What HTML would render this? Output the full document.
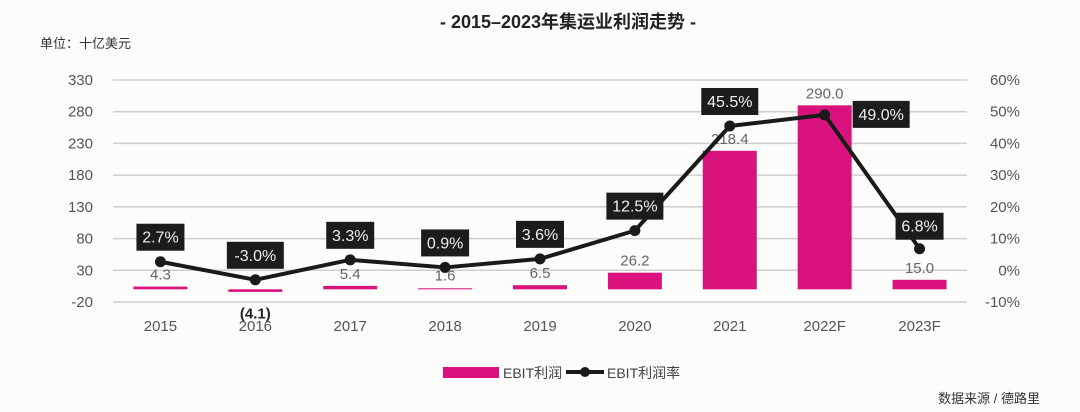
<!DOCTYPE html>
<html><head><meta charset="utf-8"><style>
body{margin:0;background:#fcfcfa;}
svg{display:block;font-family:"Liberation Sans","Noto Sans CJK SC",sans-serif;}
</style></head><body>
<svg width="1080" height="412" viewBox="0 0 1080 412">
<rect width="1080" height="412" fill="#fcfcfa"/>
<text x="568" y="28" text-anchor="middle" font-size="18" font-weight="bold" fill="#222">- 2015–2023年集运业利润走势 -</text>
<text x="40" y="48" font-size="13" fill="#333">单位：十亿美元</text>
<text x="1040" y="403" text-anchor="end" font-size="13" fill="#333">数据来源 / 德路里</text>
<g id="grid"></g><g id="bars"></g><g id="line"></g><g id="axes"></g>
<g>
<rect x="443" y="367" width="56" height="11" fill="#d9127d"/>
<text x="503" y="378" font-size="14" fill="#444">EBIT利润</text>
<line x1="566" y1="372" x2="604" y2="372" stroke="#1a1a1a" stroke-width="4"/>
<circle cx="585" cy="372" r="5" fill="#1a1a1a"/>
<text x="607" y="378" font-size="14" fill="#444">EBIT利润率</text>
</g>
</svg>
<script>
const categories=["2015","2016","2017","2018","2019","2020","2021","2022F","2023F"];
const ebit=[4.3,-4.1,5.4,1.6,6.5,26.2,218.4,290.0,15.0];
const margin=[2.7,-3.0,3.3,0.9,3.6,12.5,45.5,49.0,6.8];
const leftTicks=[330,280,230,180,130,80,30,-20];
const rightTicks=[60,50,40,30,20,10,0,-10];
const NS="http://www.w3.org/2000/svg";
const X0=113,X1=967,YT=80,YB=302;
const yL=v=>YB-(v+20)/350*(YB-YT);
const yR=v=>YB-(v+10)/70*(YB-YT);
const step=(X1-X0)/categories.length;
const xC=i=>X0+step*(i+0.5);
function mk(tag,attrs,parent,text){const e=document.createElementNS(NS,tag);for(const k in attrs)e.setAttribute(k,attrs[k]);if(text!==undefined)e.textContent=text;parent.appendChild(e);return e;}
const grid=document.getElementById('grid'),bars=document.getElementById('bars'),line=document.getElementById('line'),axes=document.getElementById('axes');
leftTicks.forEach(t=>{
 const l=mk('line',{x1:X0,x2:X1,y1:yL(t),y2:yL(t),stroke:'#cfcfcf','stroke-width':1.5},grid);
 
 
 const tx=mk('text',{x:93,y:yL(t)+5,'text-anchor':'end','font-size':15,fill:'#555'},axes,String(t));
 
 
});
rightTicks.forEach(t=>{
 const tx=mk('text',{x:1020,y:yR(t)+5,'text-anchor':'end','font-size':15,fill:'#555'},axes,t+'%');
 
 
});
categories.forEach((c,i)=>{
 const tx=mk('text',{x:xC(i),y:331,'text-anchor':'middle','font-size':15,fill:'#555'},axes,c);
 
 
});
ebit.forEach((v,i)=>{
 const y0=yL(0),y1=yL(v);
 const r=mk('rect',{x:xC(i)-27,y:Math.min(y0,y1),width:54,height:Math.max(Math.abs(y1-y0),1),fill:'#d9127d'},bars);
 
 
 const neg=v<0;
 const lbl=neg?'('+Math.abs(v).toFixed(1)+')':v.toFixed(1);
 const ly=neg?yL(0)+29:Math.min(yL(v)-7,yL(0)-9);
 const t=mk('text',{x:xC(i),y:ly,'text-anchor':'middle','font-size':15,fill:neg?'#222':'#666','font-weight':neg?'bold':'normal'},bars,lbl);
 
 
});
const pts=margin.map((v,i)=>[xC(i),yR(v)]);
const pl=mk('polyline',{points:pts.map(p=>p.join(',')).join(' '),fill:'none',stroke:'#1a1a1a','stroke-width':4,'stroke-linejoin':'round'},line);


margin.forEach((v,i)=>{
 const c=mk('circle',{cx:pts[i][0],cy:pts[i][1],r:5.5,fill:'#1a1a1a'},line);
 
 
 const txt=v.toFixed(1)+'%';
 const w=txt.length*9+12;
 let bx=pts[i][0]-w/2, by=pts[i][1]-38;
 if(i===7){bx=pts[i][0]+28;by=pts[i][1]-14;}
 if(i===8){by=pts[i][1]-36;}
 const b=mk('rect',{x:bx,y:by,width:w,height:27,fill:'#1c1c1c'},line);
 
 
 const t=mk('text',{x:bx+w/2,y:by+19,'text-anchor':'middle','font-size':16,fill:'#eee'},line,txt);
 
 
});
</script>
</body></html>
